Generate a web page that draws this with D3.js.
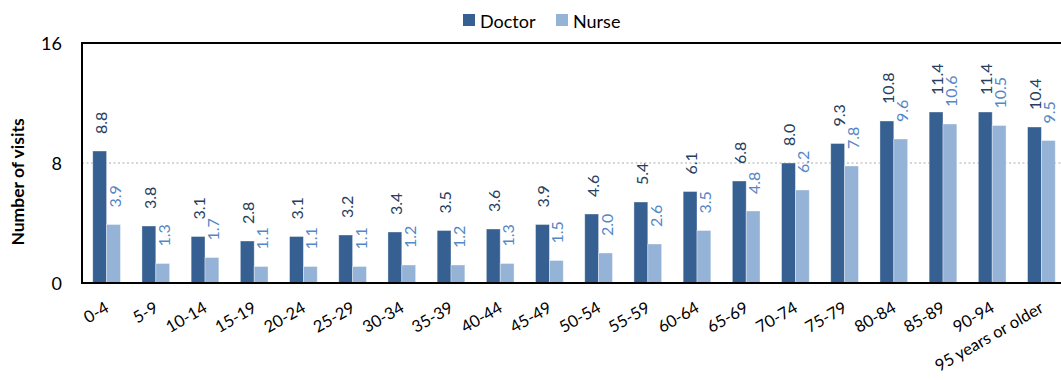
<!DOCTYPE html>
<html>
<head>
<meta charset="utf-8">
<script src="https://cdn.jsdelivr.net/npm/d3@7"></script>
<style>
  html, body { margin: 0; padding: 0; background: #fff; }
  svg { display: block; font-family: Lato, "Open Sans", sans-serif; }
</style>
</head>
<body>
<svg id="chart" width="1061" height="380"></svg>
<script>
// Age groups and average visits per person
const ageGroups = ["0-4","5-9","10-14","15-19","20-24","25-29","30-34","35-39","40-44","45-49",
  "50-54","55-59","60-64","65-69","70-74","75-79","80-84","85-89","90-94","95 years or older"];
const doctorVisits = [8.8,3.8,3.1,2.8,3.1,3.2,3.4,3.5,3.6,3.9,4.6,5.4,6.1,6.8,8.0,9.3,10.8,11.4,11.4,10.4];
const nurseVisits  = [3.9,1.3,1.7,1.1,1.1,1.1,1.2,1.2,1.3,1.5,2.0,2.6,3.5,4.8,6.2,7.8,9.6,10.6,10.5,9.5];
const seriesNames = ["Doctor","Nurse"];
const yTicks = [0, 8, 16];

const colors = { Doctor: "#376092", Nurse: "#95B3D7" };
const labelColors = { Doctor: "#25405F", Nurse: "#5587C6" };

const svg = d3.select("#chart");
const plot = { left: 82, right: 1066, top: 43, bottom: 283 };

const x = d3.scaleBand().domain(ageGroups)
  .range([plot.left, plot.right])
  .paddingInner(0.437).paddingOuter(0.2185);
const xs = d3.scaleBand().domain(seriesNames).range([0, x.bandwidth()]);
const y = d3.scaleLinear().domain([0, 16]).range([plot.bottom, plot.top]);

const rows = ageGroups.map((g, i) => ({
  group: g,
  values: [ { key: "Doctor", v: doctorVisits[i] }, { key: "Nurse", v: nurseVisits[i] } ]
}));

// dotted gridline at the middle tick
svg.append("g").selectAll("line")
  .data(yTicks.filter(t => t > 0 && t < 16))
  .join("line")
  .attr("x1", plot.left).attr("x2", plot.right)
  .attr("y1", d => y(d)).attr("y2", d => y(d))
  .attr("stroke", "#c8c8c8").attr("stroke-width", 1.3)
  .attr("stroke-dasharray", "2,2.5");

// bars
const groups = svg.append("g").selectAll("g")
  .data(rows).join("g")
  .attr("transform", d => `translate(${x(d.group)},0)`);

groups.selectAll("rect")
  .data(d => d.values).join("rect")
  .attr("x", d => xs(d.key))
  .attr("width", xs.bandwidth())
  .attr("y", d => y(d.v))
  .attr("height", d => y(0) - y(d.v))
  .attr("fill", d => colors[d.key])
  .attr("stroke", "rgba(255,255,255,0.45)")
  .attr("stroke-width", 0.8);

// rotated value labels above each bar
groups.selectAll("text")
  .data(d => d.values).join("text")
  .attr("transform", d => `translate(${xs(d.key) + xs.bandwidth() / 2 + 0.5},${y(d.v) - 17}) rotate(-90)`)
  .attr("dominant-baseline", "central")
  .attr("text-anchor", "start")
  .attr("font-size", 16)
  .attr("fill", d => labelColors[d.key])
  .text(d => d.v.toFixed(1));

// frame: top, left, bottom
svg.append("path")
  .attr("d", `M${plot.right},${plot.top}H${plot.left}V${plot.bottom}H${plot.right}`)
  .attr("fill", "none").attr("stroke", "#000").attr("stroke-width", 2);

// y tick labels
svg.append("g").selectAll("text")
  .data(yTicks).join("text")
  .attr("x", 62).attr("y", d => y(d))
  .attr("text-anchor", "end").attr("dominant-baseline", "central")
  .attr("font-size", 18).attr("fill", "#000")
  .text(d => d);

// y axis title
svg.append("text")
  .attr("transform", "translate(17,182) rotate(-90)")
  .attr("text-anchor", "middle").attr("dominant-baseline", "central")
  .attr("font-size", 17.5).attr("font-weight", "bold").attr("fill", "#000")
  .text("Number of visits");

// x tick labels, slanted
svg.append("g").selectAll("text")
  .data(ageGroups).join("text")
  .attr("transform", d => `translate(${x(d) + x.bandwidth() / 2 - 3},${plot.bottom + 17}) rotate(-30)`)
  .attr("text-anchor", "end").attr("dominant-baseline", "hanging")
  .attr("font-size", 16.5).attr("fill", "#000")
  .text(d => d);

// legend
const legend = svg.append("g");
const legendX = [463, 556];
seriesNames.forEach((s, i) => {
  const g = legend.append("g").attr("transform", `translate(${legendX[i]},14)`);
  g.append("rect").attr("width", 12).attr("height", 12).attr("fill", colors[s]);
  g.append("text").attr("x", 17).attr("y", 6.5)
    .attr("dominant-baseline", "central")
    .attr("font-size", 18).attr("fill", "#000").text(s);
});
</script>
</body>
</html>
